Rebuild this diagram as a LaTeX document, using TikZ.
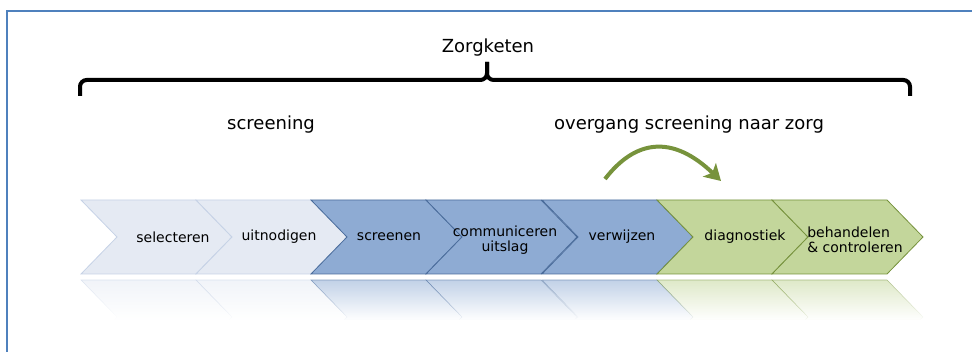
\documentclass[tikz,border=0pt]{standalone}
\usepackage{fontspec}
\setmainfont{DejaVu Sans}
\usetikzlibrary{arrows.meta,fadings}
\definecolor{kader}{HTML}{4F81BD}
\definecolor{lichtvul}{HTML}{E5EAF3}
\definecolor{lichtrand}{HTML}{C6D2E6}
\definecolor{blauwvul}{HTML}{8EABD3}
\definecolor{blauwrand}{HTML}{4A6C9B}
\definecolor{groenvul}{HTML}{C3D69B}
\definecolor{groenrand}{HTML}{76923C}
\definecolor{pijlgroen}{HTML}{77933C}
\tikzfading[name=spiegel, top color=transparent!45, bottom color=transparent!100]

\begin{document}
\begin{tikzpicture}[x=0.75pt,y=-0.75pt,
  kop/.style={font=\fontsize{13.5}{16}\selectfont},
  stap/.style={font=\fontsize{10.5}{11.5}\selectfont},
  haak/.style={line width=3pt,rounded corners=5pt},
  pijl/.style={pijlgroen,line width=3pt,-{Stealth[length=12pt,width=14pt,inset=3pt]}}]
  \useasboundingbox (0,0) rectangle (972,352);
  % kader links en boven
  \draw[kader,line width=0.9pt] (7,352) -- (7,11) -- (972,11);

  % accolade
  \draw[haak] (80,96) -- (80,80) -- (487,80) -- (487,62);
  \draw[haak] (910,96) -- (910,80) -- (487,80) -- (487,62);
  \node[kop] (keten) at (488,48) {Zorgketen};
  \node[kop] (scr-kop) at (271,125) {screening};
  \node[kop] (overgang) at (689,125) {overgang screening naar zorg};

  % pijlen van de keten, met afgekapte spiegeling eronder
  \foreach \x/\fc/\dc in {81/lichtvul/lichtrand,196/lichtvul/lichtrand,
      311/blauwvul/blauwrand,426/blauwvul/blauwrand,542/blauwvul/blauwrand,
      657/groenvul/groenrand,772/groenvul/groenrand}{
    \draw[fill=\fc,draw=\dc,line width=0.6pt]
      (\x,200) -- ++(115,0) -- ++(36,37) -- ++(-36,37) -- ++(-115,0) -- ++(36,-37) -- cycle;
    \filldraw[fill=\fc,draw=\dc,line width=0.4pt,path fading=spiegel]
      (\x,280) -- ++(115,0) -- ++(36,37) -- ++(-3,3) -- ++(-115,0) -- ++(3,-3) -- cycle;
  }

  \node[stap] (sel) at (173,237) {selecteren};
  \node[stap] (uit) at (279,237) {uitnodigen};
  \node[stap] (scr) at (389,237) {screenen};
  \node[stap,align=center] (com) at (505,240) {communiceren\\uitslag};
  \node[stap] (ver) at (622,237) {verwijzen};
  \node[stap] (dia) at (745,237) {diagnostiek};
  \node[stap,align=left,anchor=west,inner sep=0pt] (beh) at (807,240) {behandelen\\\& controleren};

  % overgang naar zorg
  \draw[pijl] (605,179) .. controls (635,140) and (672,134) .. (721,181);
\end{tikzpicture}
\end{document}
